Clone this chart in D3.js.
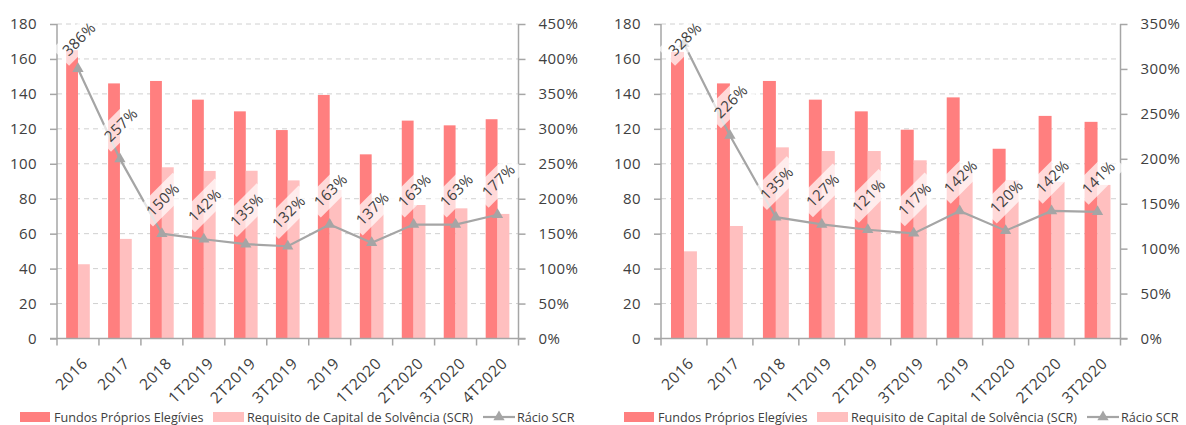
<!DOCTYPE html>
<html><head><meta charset="utf-8">
<script src="https://cdn.jsdelivr.net/npm/d3@7"></script>
<style>
body{margin:0;background:#fff;}
svg{display:block;font-family:"Open Sans",sans-serif;}
</style></head>
<body><svg id="c" width="1186" height="425"></svg>
<script>
// ---- data ----
const categoriesA = ["2016","2017","2018","1T2019","2T2019","3T2019","2019","1T2020","2T2020","3T2020","4T2020"];
const fundosA = [165,146,147.4,136.7,130,119.3,139.4,105.4,124.7,122,125.5];
const scrA = [42.5,57,98,95.9,96,90.5,85,77,76.4,74.5,71.3];
const ratioA = [386,257,150,142,135,132,163,137,163,163,177];
const rightTicksA = [0,50,100,150,200,250,300,350,400,450];

const categoriesB = ["2016","2017","2018","1T2019","2T2019","3T2019","2019","1T2020","2T2020","3T2020"];
const fundosB = [164,146,147.4,136.7,130,119.5,138,108.6,127.4,124];
const scrB = [49.9,64.4,109.4,107.3,107.3,102,97,90.7,89.7,87.9];
const ratioB = [328,226,135,127,121,117,142,120,142,141];
const rightTicksB = [0,50,100,150,200,250,300,350];

const leftTicks = [0,20,40,60,80,100,120,140,160,180];
const legendLabels = ["Fundos Próprios Elegívies","Requisito de Capital de Solvência (SCR)","Rácio SCR"];

const C_DARK = "#ff7f7f", C_LIGHT = "#ffbfbf", C_LINE = "#a5a5a5", C_AXIS = "#a6a6a6", C_TEXT = "#404040";

const svg = d3.select("#c");

function drawChart(cfg){
  const {x0,x1,cats,fundos,scr,ratio,rTicks,legX} = cfg;
  const top = 24, bottom = 338.5;
  const g = svg.append("g");
  const x = d3.scaleBand().domain(cats).range([x0,x1]);
  const y = d3.scaleLinear().domain([0,180]).range([bottom,top]);
  const y2 = d3.scaleLinear().domain([0,d3.max(rTicks)]).range([bottom,top]);
  const bw = x.bandwidth()*0.282;

  // gridlines
  g.append("g").selectAll("line").data(leftTicks.filter(d=>d>0)).join("line")
    .attr("x1",x0).attr("x2",x1).attr("y1",d=>y(d)).attr("y2",d=>y(d))
    .attr("stroke","#d0d0d0").attr("stroke-width",1).attr("stroke-dasharray","5,4");

  // bars
  g.append("g").selectAll("rect").data(cats).join("rect")
    .attr("x",d=>x(d)+x.bandwidth()/2-bw).attr("width",bw)
    .attr("y",(d,i)=>y(fundos[i])).attr("height",(d,i)=>bottom-y(fundos[i]))
    .attr("fill",C_DARK);
  g.append("g").selectAll("rect").data(cats).join("rect")
    .attr("x",d=>x(d)+x.bandwidth()/2).attr("width",bw)
    .attr("y",(d,i)=>y(scr[i])).attr("height",(d,i)=>bottom-y(scr[i]))
    .attr("fill",C_LIGHT);

  // axes
  const ax = g.append("g").attr("transform",`translate(${x0},0)`)
    .call(d3.axisLeft(y).tickValues(leftTicks).tickSize(7).tickPadding(13));
  const ax2 = g.append("g").attr("transform",`translate(${x1},0)`)
    .call(d3.axisRight(y2).tickValues(rTicks).tickSize(7).tickPadding(13).tickFormat(d=>d+"%"));
  const axb = g.append("g").attr("transform",`translate(0,${bottom})`)
    .call(d3.axisBottom(x).tickSize(7).tickFormat(""));
  axb.selectAll(".tick").remove();
  axb.selectAll(".bt").data(cats.map(c=>x(c)).concat([x1])).join("line")
    .attr("x1",d=>d).attr("x2",d=>d).attr("y1",0).attr("y2",7).attr("stroke",C_AXIS).attr("stroke-width",1.5);
  axb.select(".domain").attr("d",`M${x0-7},0H${x1+7}`);
  [ax,ax2,axb].forEach(a=>{
    a.select(".domain").attr("stroke",C_AXIS).attr("stroke-width",1.5);
    a.selectAll(".tick line").attr("stroke",C_AXIS).attr("stroke-width",1.5);
    a.selectAll("text").attr("fill",C_TEXT).style("font-size","15px")
      .style("letter-spacing","0.4px").style("font-family","'Open Sans',sans-serif");
  });
  ax.select(".domain").attr("d",`M0,${top}V${bottom}`);
  ax2.select(".domain").attr("d",`M0,${top}V${bottom}`);

  // x labels
  g.append("g").selectAll("text").data(cats).join("text")
    .attr("transform",d=>`translate(${x(d)+x.bandwidth()/2+7},${bottom+22}) rotate(-45)`)
    .attr("text-anchor","end").attr("dy","0.35em")
    .attr("fill",C_TEXT).style("font-size","15.5px").style("letter-spacing","0.6px").text(d=>d);

  // ratio line
  const cx = d=>x(d)+x.bandwidth()/2;
  g.append("path").datum(cats)
    .attr("d",d3.line().x(cx).y((d,i)=>y2(ratio[i])))
    .attr("fill","none").attr("stroke",C_LINE).attr("stroke-width",2.2);
  const tri = d3.symbol().type(d3.symbolTriangle).size(55);
  g.append("g").selectAll("path").data(cats).join("path")
    .attr("d",tri).attr("transform",(d,i)=>`translate(${cx(d)},${y2(ratio[i])})`)
    .attr("fill",C_LINE);

  // data labels
  const lab = g.append("g").selectAll("g").data(cats).join("g")
    .attr("transform",(d,i)=>`translate(${cx(d)+1},${Math.max(39,y2(ratio[i])-34)}) rotate(-45)`);
  lab.append("rect").attr("x",-26).attr("y",-12).attr("width",52).attr("height",24)
    .attr("fill","#fff").attr("fill-opacity",0.7);
  lab.append("text").attr("text-anchor","middle").attr("dy","0.35em")
    .attr("fill",C_TEXT).style("font-size","15px").style("letter-spacing","0.4px").text((d,i)=>ratio[i]+"%");

  // legend
  const lg = g.append("g").attr("transform",`translate(${legX},0)`).style("font-size","12.6px");
  lg.append("rect").attr("x",0).attr("y",412).attr("width",30).attr("height",10).attr("fill",C_DARK);
  lg.append("text").attr("x",34).attr("y",422).attr("fill",C_TEXT).text(legendLabels[0]);
  lg.append("rect").attr("x",193).attr("y",412).attr("width",31).attr("height",10).attr("fill",C_LIGHT);
  lg.append("text").attr("x",227).attr("y",422).attr("fill",C_TEXT).text(legendLabels[1]);
  lg.append("line").attr("x1",463).attr("x2",495).attr("y1",417).attr("y2",417).attr("stroke",C_LINE).attr("stroke-width",2.2);
  lg.append("path").attr("d",tri).attr("transform","translate(479,417)").attr("fill",C_LINE);
  lg.append("text").attr("x",497).attr("y",422).attr("fill",C_TEXT).text(legendLabels[2]);
}

drawChart({x0:57,x1:518.5,cats:categoriesA,fundos:fundosA,scr:scrA,ratio:ratioA,rTicks:rightTicksA,legX:20});
drawChart({x0:661,x1:1120.5,cats:categoriesB,fundos:fundosB,scr:scrB,ratio:ratioB,rTicks:rightTicksB,legX:624});
</script></body></html>
